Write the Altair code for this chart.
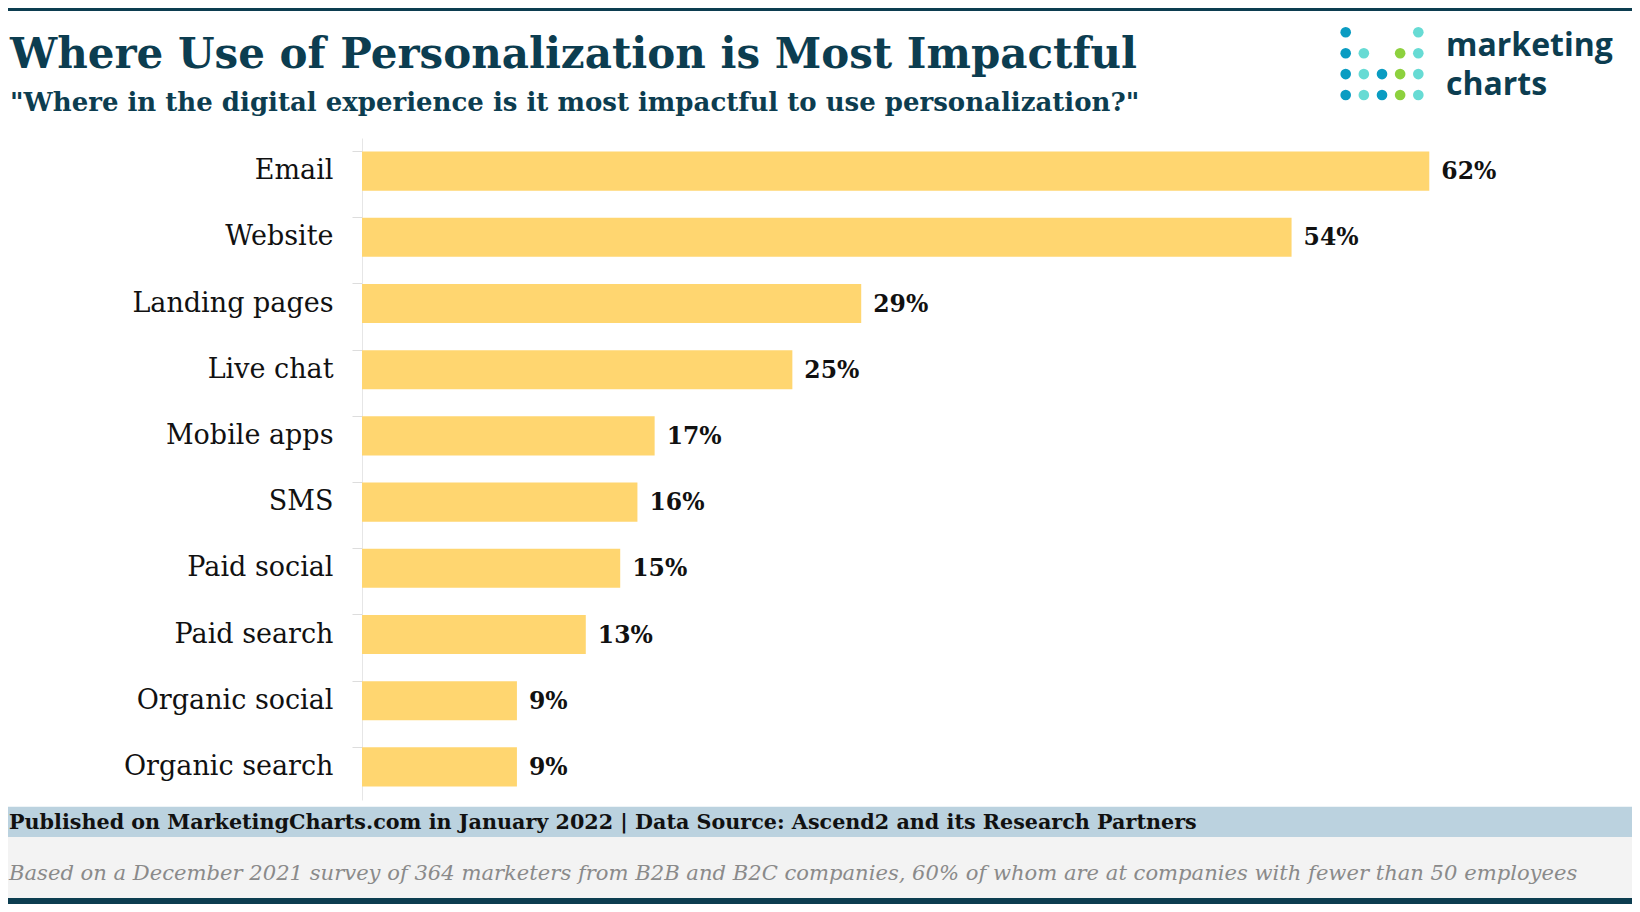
import altair as alt
import pandas as pd

# ---------------- data ----------------
categories = ["Email", "Website", "Landing pages", "Live chat", "Mobile apps",
              "SMS", "Paid social", "Paid search", "Organic social", "Organic search"]
values = [62, 54, 29, 25, 17, 16, 15, 13, 9, 9]

title_text = "Where Use of Personalization is Most Impactful"
subtitle_text = '"Where in the digital experience is it most impactful to use personalization?"'
source_text = "Published on MarketingCharts.com in January 2022 | Data Source: Ascend2 and its Research Partners"
note_text = ("Based on a December 2021 survey of 364 marketers from B2B and B2C companies, "
             "60% of whom are at companies with fewer than 50 employees")
logo_words = ["marketing", "charts"]

# logo dot grid (column, row, tone)
logo_cols = [0, 4, 0, 1, 3, 4, 0, 1, 2, 3, 4, 0, 1, 2, 3, 4]
logo_rows = [0, 0, 1, 1, 1, 1, 2, 2, 2, 2, 2, 3, 3, 3, 3, 3]
logo_tone = ["blue", "cyan", "blue", "cyan", "green", "cyan",
             "blue", "cyan", "blue", "green", "cyan",
             "blue", "cyan", "blue", "green", "cyan"]

# ---------------- styles ----------------
SERIF = "DejaVu Serif"
DARK = "#0c3d50"
BAR = "#FFD670"
W, H = 1205, 662
LEFT, TOP = 354, 130
TOTAL_W, TOTAL_H = 1624, 896

df = pd.DataFrame({"category": categories, "value": values})
one = pd.DataFrame({"k": [0]})

ysc = alt.Scale(paddingInner=0.41, paddingOuter=0.205)
xsc = alt.Scale(domain=[0, 70], nice=False, zero=True)

base = alt.Chart(df)
bars = base.mark_bar(color=BAR).encode(
    y=alt.Y("category:N", sort=categories, scale=ysc,
            axis=alt.Axis(title=None, labelFont=SERIF, labelFontSize=27,
                          labelColor="#111111", labelPadding=19, tickSize=10,
                          tickColor="#dddddd", domainColor="#e6e6e6",
                          bandPosition=0, labelLimit=400)),
    x=alt.X("value:Q", scale=xsc, axis=None),
)
labels = base.transform_calculate(lab="datum.value + '%'").mark_text(
    align="left", baseline="middle", dx=12, dy=1, font=SERIF,
    fontWeight="bold", fontSize=23.5, color="#111111"
).encode(
    y=alt.Y("category:N", sort=categories, scale=ysc),
    x=alt.X("value:Q", scale=xsc, axis=None),
    text="lab:N",
)
main = alt.layer(bars, labels)

logo_df = pd.DataFrame({"col": logo_cols, "row": logo_rows, "tone": logo_tone})
logo = alt.Chart(logo_df).mark_circle(size=113, opacity=1).encode(
    x=alt.X("col:Q", scale=alt.Scale(domain=[0, 4], range=[983.7, 1056.3]), axis=None),
    y=alt.Y("row:Q", scale=alt.Scale(domain=[0, 3], range=[-105.7, -43]), axis=None),
    color=alt.Color("tone:N", scale=alt.Scale(domain=["blue", "cyan", "green"],
                                              range=["#0a9cc2", "#67dbd4", "#8dd13e"]),
                    legend=None),
)


def band(x1, x2, y1, y2, color):
    return alt.Chart(one).mark_rect(color=color).encode(
        x=alt.value(x1), x2=alt.value(x2), y=alt.value(y1), y2=alt.value(y2))


def txt(t, x, y, size, color, weight="normal", style="normal", font=SERIF):
    return alt.Chart(pd.DataFrame({"t": [t]})).mark_text(
        align="left", baseline="alphabetic", fontSize=size, color=color,
        fontWeight=weight, fontStyle=style, font=font
    ).encode(text="t:N", x=alt.value(x), y=alt.value(y))


xl, xr = -LEFT, TOTAL_W - LEFT
decor = [
    band(xl, xr, -TOP, -TOP + 3, DARK),
    band(xl, xr, 668.7, 699, "#bbd2df"),
    band(xl, xr, 699, 760, "#f3f3f3"),
    band(xl, xr, 760, 766, DARK),
    txt(title_text, -352, -69.7, 42, DARK, weight="bold"),
    txt(subtitle_text, -352, -27.3, 26, DARK, weight="bold"),
    txt(source_text, -353, 691.3, 20.7, "#111111", weight="bold"),
    txt(note_text, -353, 742, 21.1, "#8a8a8a", style="italic"),
    txt(logo_words[0], 1084, -82, 32, DARK, weight="bold", font="Open Sans"),
    txt(logo_words[1], 1084, -43, 32, DARK, weight="bold", font="Open Sans"),
]

chart = alt.layer(*decor, main, logo).resolve_scale(
    x="independent", y="independent", color="independent"
).properties(
    width=W, height=H,
    padding={"left": LEFT, "top": TOP, "right": TOTAL_W - LEFT - W,
             "bottom": TOTAL_H - TOP - H},
    autosize=alt.AutoSizeParams(type="none"),
    background="white",
).configure_view(stroke=None)

chart.save("out.html", embed_options={"renderer": "svg", "actions": False})
